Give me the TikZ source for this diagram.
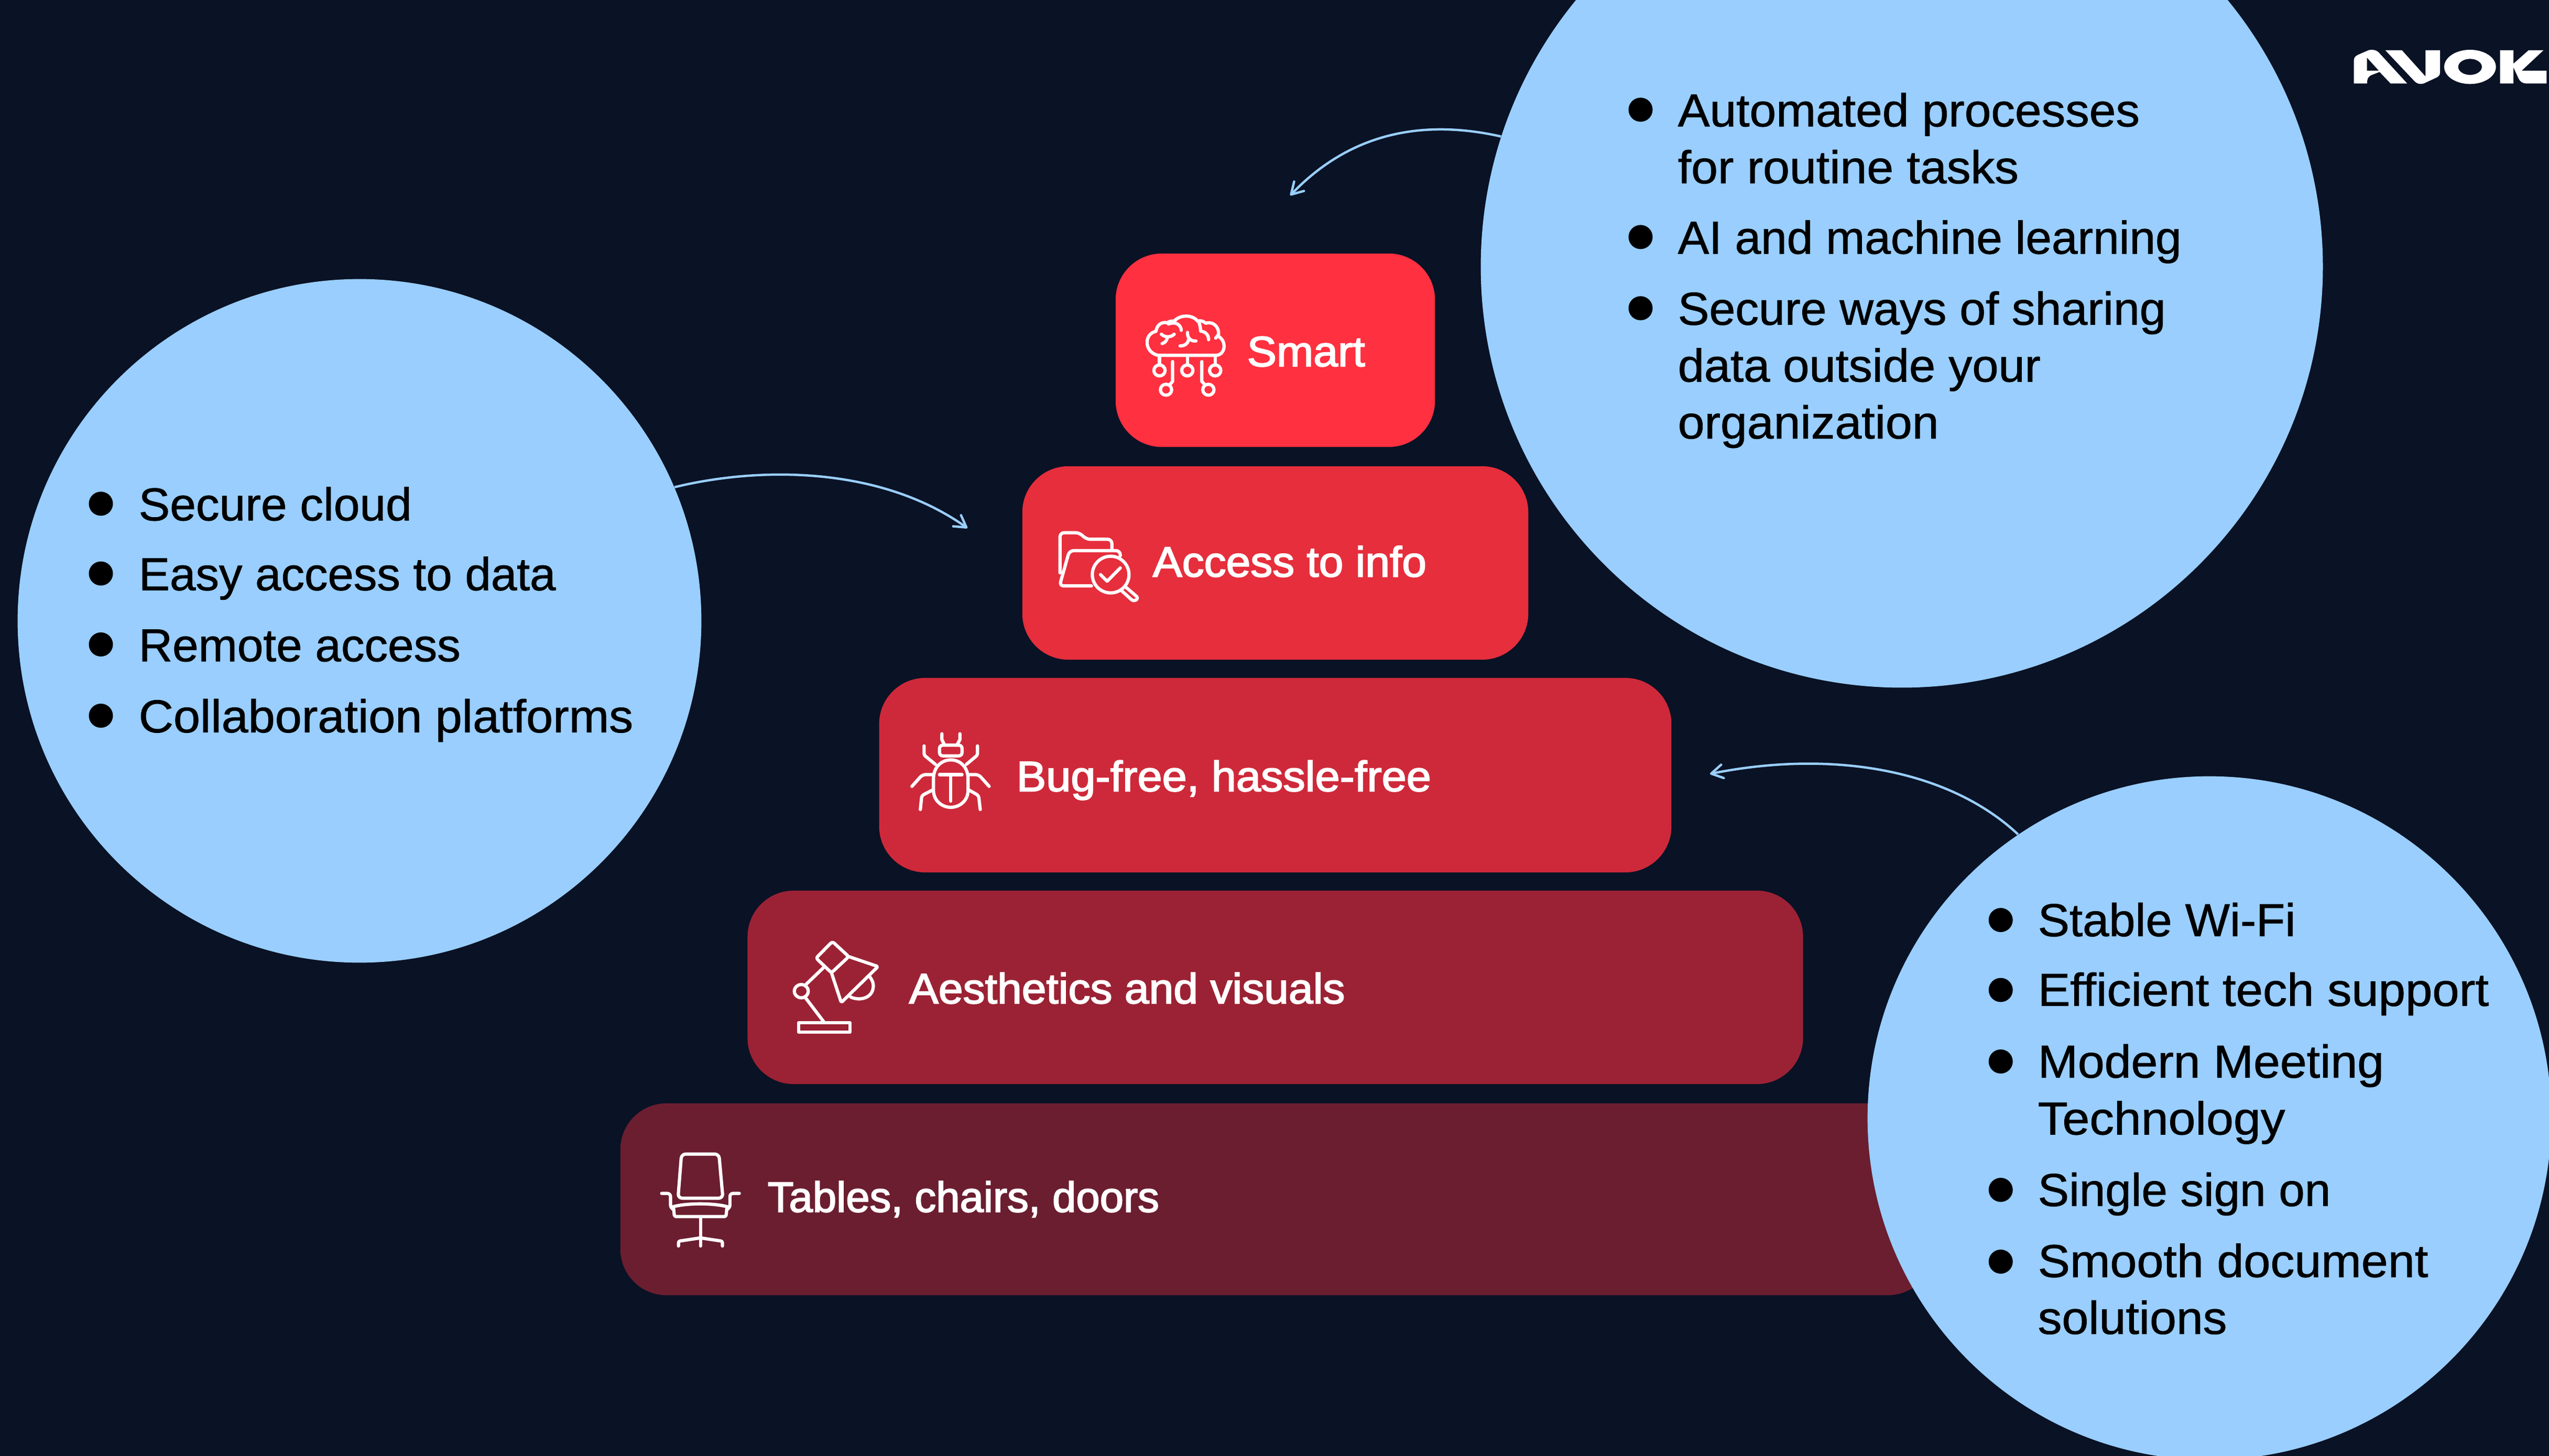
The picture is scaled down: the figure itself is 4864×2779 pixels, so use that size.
\documentclass[tikz,border=0pt]{standalone}
\usepackage{graphicx}
\usepackage{fontspec}
\usetikzlibrary{arrows.meta}
\setmainfont[FakeStretch=1.038,FakeBold=1.0]{Liberation Sans}
\newfontfamily\lblfont[FakeBold=2.5,FakeStretch=1.03]{Liberation Sans}
\definecolor{bg}{HTML}{0A1225}
\definecolor{blob}{HTML}{99CEFF}
\definecolor{barA}{HTML}{FF3040}
\definecolor{barB}{HTML}{E62E3C}
\definecolor{barC}{HTML}{CE293A}
\definecolor{barD}{HTML}{9B2234}
\definecolor{barE}{HTML}{6B1E30}
\tikzset{
  barbox/.style={rectangle,rounded corners=0.88cm,inner sep=0pt,draw=none},
  blobnode/.style={circle,fill=blob,draw=none,inner sep=0pt},
  lbl/.style={anchor=base west,inner sep=0pt,text=white,font=\lblfont\fontsize{23.05pt}{28pt}\selectfont},
  listtext/.style={anchor=north west,inner sep=0pt,align=left,text=black,font=\fontsize{25.04pt}{30.87pt}\selectfont},
  dotmark/.style={fill=black,draw=none},
  icon/.style={draw=white,line width=0.062cm,line cap=round,line join=round,fill=none},
  curvearrow/.style={draw=blob,line width=0.045cm,-{Straight Barb[length=0.22cm,width=0.26cm,round]}},
}
\newcommand{\st}{\rule{0pt}{0.8cm}}
\newcommand{\hs}[2]{\scalebox{#1}[1]{#2}}
\begin{document}
\begin{tikzpicture}[x=0.01cm,y=-0.01cm]
\useasboundingbox (0,0) rectangle (4864,2779);
\fill[bg] (0,0) rectangle (4864,2779);
\begin{scope}
\clip (0,0) rectangle (4864,2779);
% bars
\node[barbox,fill=barA,minimum width=6.09cm,minimum height=3.69cm] (smart) at (2433.5,668.5) {};
\node[barbox,fill=barB,minimum width=9.65cm,minimum height=3.69cm] (access) at (2433.5,1074.5) {};
\node[barbox,fill=barC,minimum width=15.11cm,minimum height=3.71cm] (bug) at (2433.5,1479.5) {};
\node[barbox,fill=barD,minimum width=20.13cm,minimum height=3.69cm] (aesth) at (2433.5,1884.5) {};
\node[barbox,fill=barE,minimum width=25.05cm,minimum height=3.66cm] (tables) at (2437,2289) {};
% circles
\node[blobnode,minimum size=13.04cm] (left) at (686,1185) {};
\node[blobnode,minimum size=16.06cm] (topr) at (3629,509) {};
\node[blobnode,minimum size=13.04cm] (botr) at (4216,2134) {};
\end{scope}
% bar labels
\node[lbl] (tsmart) at (2379,699) {\hs{1.01}{Smart}};
\node[lbl] (taccess) at (2199,1100.5) {\hs{1.005}{Access to info}};
\node[lbl] (tbug) at (1939,1510) {\hs{1.015}{Bug-free, hassle-free}};
\node[lbl] (taesth) at (1734,1915) {\hs{1.007}{Aesthetics and visuals}};
\node[lbl] (ttables) at (1464,2313) {\hs{.976}{Tables, chairs, doors}};
% left list
\fill[dotmark] (192.5,961.4) circle (23) (192.5,1094.6) circle (23) (192.5,1230) circle (23) (192.5,1366) circle (23);
\node[listtext] (l1) at (264,912.5) {\st\hs{.977}{Secure cloud}};
\node[listtext] (l2) at (264,1045.7) {\st\hs{.973}{Easy access to data}};
\node[listtext] (l3) at (264,1181.4) {\st\hs{.975}{Remote access}};
\node[listtext] (l4) at (264,1317) {\st\hs{1.004}{Collaboration platforms}};
% top right list
\fill[dotmark] (3130.5,209.4) circle (23) (3130.5,452.4) circle (23) (3130.5,588.3) circle (23);
\node[listtext] (t1) at (3201,160.5) {\st\hs{.997}{Automated processes}\\for routine tasks};
\node[listtext] (t2) at (3201,403.5) {\st\hs{.975}{AI and machine learning}};
\node[listtext] (t3) at (3201,539) {\st\hs{.98}{Secure ways of sharing}\\\hs{.987}{data outside your}\\organization};
% bottom right list
\fill[dotmark] (3817.7,1756) circle (23) (3817.7,1889.5) circle (23) (3817.7,2026) circle (23) (3817.7,2271) circle (23) (3817.7,2408) circle (23);
\node[listtext] (b1) at (3888,1706) {\st\hs{.988}{Stable Wi-Fi}};
\node[listtext] (b2) at (3888,1839) {\st\hs{1.01}{Efficient tech support}};
\node[listtext] (b3) at (3888,1976) {\st Modern Meeting\\\hs{1.02}{Technology}};
\node[listtext] (b4) at (3888,2221) {\st\hs{.973}{Single sign on}};
\node[listtext] (b5) at (3888,2356.6) {\st\hs{1.004}{Smooth document}\\solutions};
% arrows
\coordinate (tipA) at (2462,373);
\coordinate (tipB) at (1846,1008);
\coordinate (tipC) at (3263,1477);
\draw[curvearrow] (topr.162.6) .. controls (2720,228) and (2580,250) .. (tipA);
\draw[curvearrow] (left.23.4) .. controls (1450,890) and (1680,890) .. (tipB);
\draw[curvearrow] (botr.124.9) .. controls (3720,1470) and (3500,1430) .. (tipC);
% brain icon
\begin{scope}[shift={(2100,520)},xscale=0.4464,yscale=0.4975]
\draw[icon] (245,318) -- (495,318) .. controls (535,315) and (540,262) .. (503,245)
  .. controls (512,215) and (485,185) .. (450,195) .. controls (440,187) and (428,183) .. (415,187)
  .. controls (395,162) and (340,160) .. (315,187) .. controls (305,185) and (295,187) .. (285,193)
  .. controls (260,188) and (240,203) .. (237,226) .. controls (185,235) and (185,305) .. (245,318);
\draw[icon] (290,198) .. controls (325,185) and (345,205) .. (345,222);
\draw[icon] (420,190) .. controls (425,200) and (427,212) .. (428,225) .. controls (450,228) and (462,240) .. (462,258);
\draw[icon] (260,237) .. controls (275,250) and (300,250) .. (315,237);
\draw[icon] (285,252) .. controls (283,262) and (275,270) .. (263,273);
\draw[icon] (372,230) .. controls (370,250) and (385,265) .. (408,263);
\draw[icon] (376,258) .. controls (375,272) and (360,282) .. (340,282);
\draw[icon] (503,240) -- (492,252);
\draw[icon] (252,318) -- (252,352) (371,318) -- (371,352) (490,318) -- (490,352);
\draw[icon] (252,376) ellipse [x radius=24,y radius=21];
\draw[icon] (371,376) ellipse [x radius=24,y radius=21];
\draw[icon] (490,376) ellipse [x radius=24,y radius=21];
\draw[icon] (308,342) -- (308,418) -- (295,432);
\draw[icon] (433,342) -- (433,418) -- (447,432);
\draw[icon] (280,450) ellipse [x radius=24,y radius=21];
\draw[icon] (461,450) ellipse [x radius=24,y radius=21];
\end{scope}
% folder icon
\begin{scope}[shift={(2000,990)},scale=0.3333]
\draw[icon,rounded corners=0.08cm] (68,310) -- (68,80) -- (180,80) -- (218,118) -- (365,118) -- (365,175);
\draw[icon,rounded corners=0.08cm] (413,213) -- (413,183) -- (122,183) -- (65,385) -- (248,385);
\draw[icon] (358,320) circle (105);
\draw[icon] (300,320) -- (338,358) -- (413,282);
\draw[icon,rounded corners=0.05cm] (445,392) -- (518,455) -- (490,475) -- (420,412);
\end{scope}
% bug, lamp, chair icons
\begin{scope}[shift={(1200,1350)},xscale=0.4464,yscale=0.7018]
\draw[icon] (1302,225) -- (1302,195) .. controls (1302,160) and (1340,143) .. (1376,143) .. controls (1412,143) and (1450,160) .. (1450,195) -- (1450,225) .. controls (1450,255) and (1412,272) .. (1376,272) .. controls (1340,272) and (1302,255) .. (1302,225) -- cycle;
\draw[icon] (1328,183) -- (1424,183) (1376,183) -- (1376,255);
\draw[icon,rounded corners=0.06cm] (1328,103) rectangle (1424,132);
\draw[icon] (1338,72) -- (1338,88) -- (1350,103) (1415,72) -- (1415,88) -- (1402,103);
\draw[icon,rounded corners=0.03cm] (1262,105) -- (1262,130) -- (1310,155) (1490,105) -- (1490,130) -- (1443,155);
\draw[icon,rounded corners=0.06cm] (1210,215) -- (1255,183) -- (1302,183) (1540,215) -- (1495,183) -- (1450,183);
\draw[icon,rounded corners=0.04cm] (1246,278) -- (1252,240) -- (1298,225) (1502,278) -- (1495,240) -- (1454,225);
% lamp
\draw[icon] (725,858) rectangle (945,883);
\draw[icon] (755,790) -- (835,857) (755,755) -- (832,708);
\draw[icon] (737,772) ellipse [x radius=30,y radius=18];
\draw[icon,rounded corners=0.04cm] (800,682) -- (870,637) -- (940,678) -- (866,722) -- cycle;
\draw[icon,rounded corners=0.03cm] (866,722) -- (908,803) -- (1065,705) -- (940,678);
\draw[icon] (948,788) .. controls (990,800) and (1045,790) .. (1045,757) .. controls (1045,748) and (1038,740) .. (1030,733);
% chair
\draw[icon,rounded corners=0.08cm] (225,1215) -- (385,1215) -- (402,1335) -- (210,1335) -- cycle;
\draw[icon] (190,1358) .. controls (250,1348) and (360,1348) .. (420,1358);
\draw[icon,rounded corners=0.03cm] (190,1358) -- (195,1385) -- (415,1385) -- (420,1358);
\draw[icon,rounded corners=0.06cm] (140,1322) -- (178,1322) -- (178,1362) -- (192,1366);
\draw[icon,rounded corners=0.06cm] (472,1322) -- (432,1322) -- (432,1362) -- (418,1366);
\draw[icon] (306,1385) -- (306,1465);
\draw[icon,rounded corners=0.03cm] (212,1465) -- (212,1452) -- (306,1443) -- (400,1452) -- (400,1465);
\end{scope}
% logo
\begin{scope}[shift={(4440,60)},scale=0.3333]
\fill[white,even odd rule] (155,298) -- (155,165) .. controls (155,150) and (165,140) .. (178,134) -- (240,107) .. controls (260,103) and (280,105) .. (295,118) -- (460,298) -- (365,298) -- (302,232) -- (255,250) .. controls (240,256) and (230,270) .. (230,298) -- cycle
  (230,150) -- (298,225) -- (230,225) -- cycle;
\fill[white] (335,108) -- (430,108) -- (565,258) -- (565,108) -- (648,108) -- (648,235) .. controls (648,250) and (640,258) .. (628,264) -- (555,298) .. controls (535,304) and (515,300) .. (502,285) -- cycle;
\fill[white,even odd rule] (820,203) ellipse [x radius=148,y radius=98] (820,203) ellipse [x radius=68,y radius=46];
\fill[white] (992,108) -- (1068,108) -- (1068,185) -- (1155,108) -- (1240,108) -- (1115,225) -- (1258,225) -- (1258,298) -- (1140,298) .. controls (1120,298) and (1105,285) .. (1098,270) -- (1068,205) -- (1068,298) -- (992,298) -- cycle;
\end{scope}
\end{tikzpicture}
\end{document}
